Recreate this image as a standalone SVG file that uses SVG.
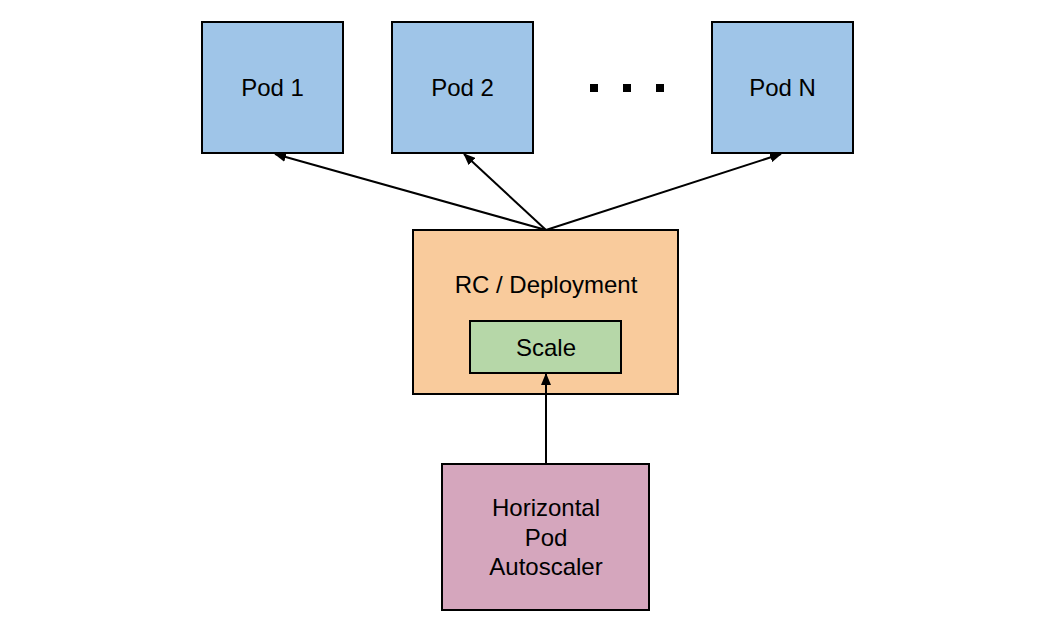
<svg xmlns="http://www.w3.org/2000/svg" width="1038" height="627" viewBox="0 0 1038 627">
<style>
.box{stroke:#000;stroke-width:2}
.pod{fill:#9fc5e8}
.rc{fill:#f9cb9c}
.scale{fill:#b6d7a8}
.hpa{fill:#d5a6bd}
text{font-family:"Liberation Sans",Arial,sans-serif;font-size:24px;fill:#000;text-anchor:middle}
.conn line{stroke:#000;stroke-width:2;fill:none}
</style>
<defs>
<marker id="arr" viewBox="0 0 12 10" refX="11" refY="5" markerWidth="6" markerHeight="5" orient="auto" markerUnits="strokeWidth">
<path d="M0,0 L12,5 L0,10 Z" fill="#000"/>
</marker>
</defs>
<rect width="1038" height="627" fill="#fff"/>
<g id="pod1"><rect class="box pod" x="202" y="22" width="141" height="131"/><text x="272.5" y="96">Pod 1</text></g>
<g id="pod2"><rect class="box pod" x="392" y="22" width="141" height="131"/><text x="462.5" y="96">Pod 2</text></g>
<g id="dots"><rect x="590" y="84" width="8" height="8" fill="#000"/><rect x="623" y="84" width="8" height="8" fill="#000"/><rect x="656" y="84" width="8" height="8" fill="#000"/></g>
<g id="podN"><rect class="box pod" x="712" y="22" width="141" height="131"/><text x="782.5" y="96">Pod N</text></g>
<g id="rc"><rect class="box rc" x="413" y="230" width="265" height="164"/><text x="546" y="293">RC / Deployment</text></g>
<g id="scale"><rect class="box scale" x="470" y="321" width="151" height="52"/><text x="546" y="356">Scale</text></g>
<g id="hpa"><rect class="box hpa" x="442" y="464" width="207" height="146"/><text x="546" y="516">Horizontal</text><text x="546" y="545.5">Pod</text><text x="546" y="575">Autoscaler</text></g>
<g class="conn" id="connectors">
<line x1="546" y1="230" x2="275" y2="154" marker-end="url(#arr)"/>
<line x1="546" y1="230" x2="464" y2="154" marker-end="url(#arr)"/>
<line x1="546" y1="230" x2="781" y2="154" marker-end="url(#arr)"/>
<line x1="546" y1="464" x2="546" y2="374" marker-end="url(#arr)"/>
</g>
</svg>
